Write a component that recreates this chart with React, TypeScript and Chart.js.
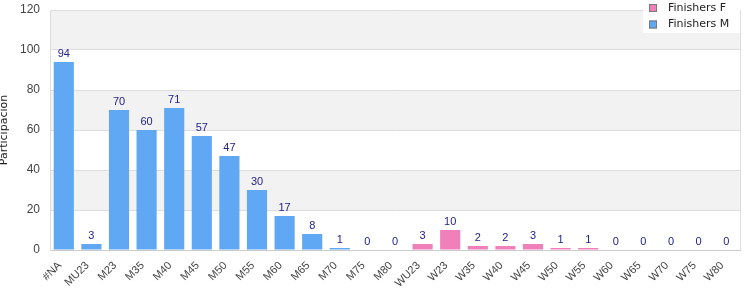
import React, { useEffect, useRef } from "react";
import { Chart, registerables } from "chart.js";

Chart.register(...registerables);

const categories = ["#NA", "MU23", "M23", "M35", "M40", "M45", "M50", "M55", "M60", "M65", "M70", "M75", "M80", "WU23", "W23", "W35", "W40", "W45", "W50", "W55", "W60", "W65", "W70", "W75", "W80"];
const finishersM: (number | null)[] = [94, 3, 70, 60, 71, 57, 47, 30, 17, 8, 1, 0, 0, null, null, null, null, null, null, null, null, null, null, null, null];
const finishersF: (number | null)[] = [null, null, null, null, null, null, null, null, null, null, null, null, null, 3, 10, 2, 2, 3, 1, 1, 0, 0, 0, 0, 0];
const yTicks = [0, 20, 40, 60, 80, 100, 120];

const BLUE = "#60a8f4";
const PINK = "#f080ba";
const FONT = "'Liberation Sans', Arial, sans-serif";
const LFONT = "'DejaVu Sans', sans-serif";

const decorPlugin = {
  id: "decor",
  beforeDraw(chart: any) {
    const { ctx, chartArea } = chart;
    const y = chart.scales.y;
    ctx.save();
    ctx.fillStyle = "#f2f2f2";
    for (const [a, b] of [[100, 120], [60, 80], [20, 40]]) {
      const top = y.getPixelForValue(b);
      const bot = y.getPixelForValue(a);
      ctx.fillRect(chartArea.left, top, chartArea.right - chartArea.left, bot - top);
    }
    ctx.restore();
  },
  afterDraw(chart: any) {
    const { ctx, chartArea } = chart;
    ctx.save();
    ctx.strokeStyle = "#dddddd";
    ctx.lineWidth = 1;
    ctx.beginPath();
    ctx.moveTo(chartArea.right + 0.5, chartArea.top);
    ctx.lineTo(chartArea.right + 0.5, chartArea.bottom);
    ctx.stroke();
    ctx.fillStyle = "#22228f";
    ctx.font = `11px ${FONT}`;
    ctx.textAlign = "center";
    ctx.textBaseline = "bottom";
    chart.data.datasets.forEach((ds: any, i: number) => {
      const meta = chart.getDatasetMeta(i);
      meta.data.forEach((el: any, j: number) => {
        const v = ds.data[j];
        if (v === null || v === undefined) return;
        ctx.fillText(String(v), el.x, el.y - 3);
      });
    });
    const lx = chartArea.right - 97;
    const ly = 0;
    ctx.fillStyle = "#ffffff";
    ctx.fillRect(lx, ly, 97, 33);
    const items = [
      { label: "Finishers F", color: PINK },
      { label: "Finishers M", color: BLUE },
    ];
    items.forEach((it, k) => {
      const cy = 8 + k * 16.5;
      ctx.fillStyle = it.color;
      ctx.fillRect(lx + 6, cy - 4, 8, 8);
      ctx.strokeStyle = "#777777";
      ctx.lineWidth = 1;
      ctx.strokeRect(lx + 6.5, cy - 3.5, 7, 7);
      ctx.fillStyle = "#222222";
      ctx.font = `11px ${LFONT}`;
      ctx.textAlign = "left";
      ctx.textBaseline = "middle";
      ctx.fillText(it.label, lx + 25, cy);
    });
    ctx.restore();
  },
};

export default function App() {
  const ref = useRef<HTMLCanvasElement>(null);
  useEffect(() => {
    document.body.style.margin = "0";
    const chart = new Chart(ref.current!, {
      type: "bar",
      data: {
        labels: categories,
        datasets: [
          { label: "Finishers F", data: finishersF, backgroundColor: PINK },
          { label: "Finishers M", data: finishersM, backgroundColor: BLUE },
        ],
      },
      options: {
        animation: false,
        responsive: false,
        maintainAspectRatio: false,
        layout: { padding: { top: 10, right: 10, left: 0, bottom: 0 } },
        datasets: { bar: { grouped: false, categoryPercentage: 1, barPercentage: 0.73 } },
        plugins: { legend: { display: false }, tooltip: { enabled: false } },
        scales: {
          x: {
            grid: { display: false, drawTicks: false },
            border: { color: "#cccccc" },
            ticks: { minRotation: 45, maxRotation: 45, autoSkip: false, color: "#444444", font: { family: FONT, size: 11 }, padding: 9, labelOffset: -4 },
            afterFit: (s: any) => { s.height = 50; s.paddingLeft = 0; s.paddingRight = 0; },
          },
          y: {
            min: 0,
            max: 120,
            afterBuildTicks: (s: any) => { s.ticks = yTicks.map((v) => ({ value: v })); },
            grid: { color: "#dddddd", drawTicks: false },
            border: { color: "#dddddd" },
            ticks: { color: "#444444", font: { family: FONT, size: 12 }, padding: 10 },
            title: { display: true, text: "Participación", color: "#222222", font: { family: LFONT, size: 11 }, padding: { top: -2, bottom: 0 } },
            afterFit: (s: any) => { s.width = 50; s.paddingTop = 0; s.paddingBottom = 0; },
          },
        },
      },
      plugins: [decorPlugin],
    });
    return () => chart.destroy();
  }, []);
  return (
    <div style={{ position: "absolute", left: 0, top: 0, width: 750, height: 300 }}>
      <canvas ref={ref} width={750} height={300} style={{ width: 750, height: 300 }} />
    </div>
  );
}
